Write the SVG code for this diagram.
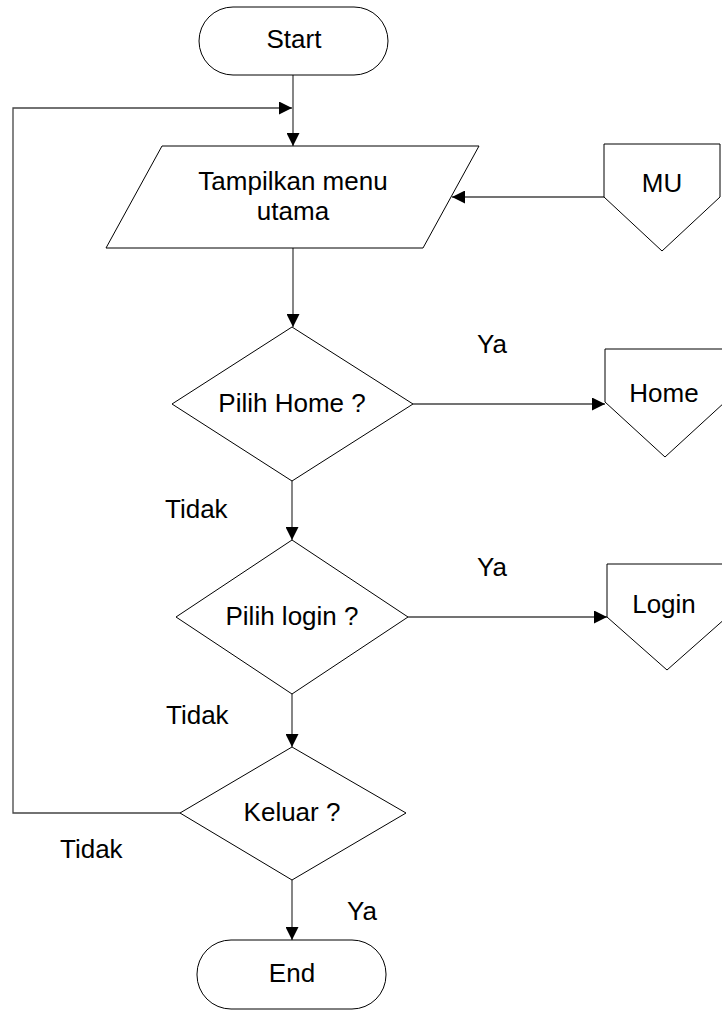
<svg xmlns="http://www.w3.org/2000/svg" width="722" height="1012" viewBox="0 0 722 1012">
<style>
.s{fill:#fff;stroke:#000;stroke-width:1}
.c{fill:none;stroke:#444;stroke-width:1.3}
text{font-family:"Liberation Sans",Arial,sans-serif;font-size:26px;fill:#000}
.m{text-anchor:middle}
</style>
<defs>
<marker id="ah" markerWidth="13" markerHeight="13" refX="13" refY="6.5" orient="auto" markerUnits="userSpaceOnUse">
<path d="M0,0 L13,6.5 L0,13 Z" fill="#000"/>
</marker>
</defs>
<rect width="722" height="1012" fill="#fff"/>
<g id="connectors">
<path class="c" d="M293,75 V146" marker-end="url(#ah)"/>
<path class="c" d="M180,813 H13 V108 H292" marker-end="url(#ah)"/>
<path class="c" d="M604,197 H452" marker-end="url(#ah)"/>
<path class="c" d="M293,248 V327" marker-end="url(#ah)"/>
<path class="c" d="M292,481 V540" marker-end="url(#ah)"/>
<path class="c" d="M292,694 V747" marker-end="url(#ah)"/>
<path class="c" d="M292,880 V940" marker-end="url(#ah)"/>
<path class="c" d="M413,404 H605" marker-end="url(#ah)"/>
<path class="c" d="M408,617 H607" marker-end="url(#ah)"/>
</g>
<g id="start">
<rect class="s" x="199" y="7" width="189" height="68" rx="34" ry="34"/>
<text class="m" x="294" y="48">Start</text>
</g>
<g id="menu">
<polygon class="s" points="162,146 479,146 423,248 106,248"/>
<text class="m" x="293" y="190">Tampilkan menu</text>
<text class="m" x="293" y="220">utama</text>
</g>
<g id="mu">
<polygon class="s" points="604,144 720,144 720,197 662,251 604,197"/>
<text class="m" x="662" y="192">MU</text>
</g>
<g id="pilihHome">
<polygon class="s" points="292,327 413,404 292,481 172,404"/>
<text class="m" x="292" y="412">Pilih Home ?</text>
</g>
<g id="home">
<polygon class="s" points="605,349 725,349 725,402 665,457 605,402"/>
<text class="m" x="664" y="402">Home</text>
</g>
<g id="pilihLogin">
<polygon class="s" points="292,540 408,617 292,694 176,617"/>
<text class="m" x="292" y="625">Pilih login ?</text>
</g>
<g id="login">
<polygon class="s" points="607,564 727,564 727,617 667,670 607,617"/>
<text class="m" x="664" y="613">Login</text>
</g>
<g id="keluar">
<polygon class="s" points="292,747 406,813 292,880 180,813"/>
<text class="m" x="292" y="821">Keluar ?</text>
</g>
<g id="end">
<rect class="s" x="197" y="940" width="189" height="69" rx="34" ry="34"/>
<text class="m" x="292" y="982">End</text>
</g>
<g id="labels">
<text x="477" y="353">Ya</text>
<text x="477" y="576">Ya</text>
<text x="347" y="920">Ya</text>
<text x="165" y="518">Tidak</text>
<text x="166" y="724">Tidak</text>
<text x="60" y="858">Tidak</text>
</g>
</svg>
